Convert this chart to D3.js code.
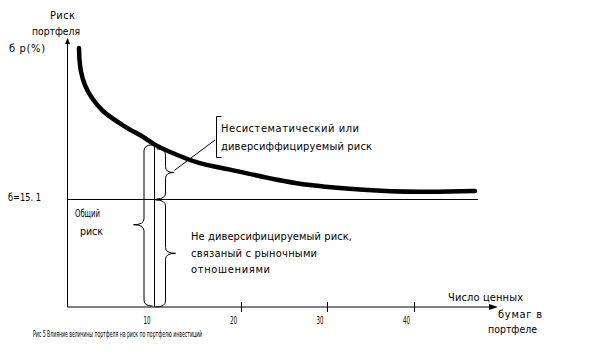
<!DOCTYPE html>
<html><head><meta charset="utf-8">
<script src="https://cdn.jsdelivr.net/npm/d3@7"></script>
<style>
body{margin:0;background:#fff;}
svg text{font-family:"Liberation Sans Narrow","DejaVu Sans Condensed",Arial,sans-serif;font-size:11px;fill:#000;}
</style></head>
<body>
<script>
// ---- data ----
const securities = [1.33,1.39,1.56,2.02,2.83,4.1,6.4,8.7,10.1,11.8,15.3,18.8,26.5,34.2,40.8,47.1];
const portfolioRisk = [36.2,34.5,32.9,31.0,29.2,27.4,25.4,23.8,22.7,21.7,20.1,19.2,17.3,16.4,16.1,16.2];
const xTicks = [10,20,30,40];
const marketRisk = 15.1;
const markerN = 10;
const riskAtMarker = 22.8;
const yLabelLines = ["Риск","портфеля","б р(%)"];
const xLabelLines = ["Число ценных","бумаг в","портфеле"];
const totalLabel = ["Общий","риск"];
const diversLabel = ["Несистематический или","диверсиффицируемый риск"];
const marketLabel = ["Не диверсифицируемый риск,","связаный с рыночными","отношениями"];
const marketValueLabel = "б=15. 1";
const caption = "Рис 5 Влияние величины портфеля на риск по портфелю инвестиций";

const W=590,H=358;
const svg=d3.select("body").append("svg").attr("width",W).attr("height",H);
const x=d3.scaleLinear().domain([0,50]).range([67.5,500]);
const y=d3.scaleLinear().domain([0,37.6]).range([307,38]);

// axes
svg.append("line").attr("x1",x(0)).attr("x2",x(0)).attr("y1",y(0)).attr("y2",y(37.6)+4).attr("stroke","#000");
svg.append("path").attr("d",`M${x(0)-2.5},${y(37.6)+6}L${x(0)},${y(37.6)}L${x(0)+2.5},${y(37.6)+6}Z`).attr("fill","#000");
const xEnd=498;
svg.append("line").attr("x1",x(0)).attr("x2",xEnd-6).attr("y1",y(0)).attr("y2",y(0)).attr("stroke","#000");
svg.append("path").attr("d",`M${xEnd-9},${y(0)-3}L${xEnd},${y(0)}L${xEnd-9},${y(0)+3}Z`).attr("fill","#000");

// fitted text helper: keeps font size, compresses glyphs only if too wide
function fitText(t,xp,yp,len,size){
  const el=svg.append("text").attr("x",xp).attr("y",yp).style("font-size",size+"px").text(t);
  const w=el.node().getComputedTextLength();
  el.attr("textLength",len).attr("lengthAdjust",w>len?"spacingAndGlyphs":"spacing");
  return el;
}

// ticks
xTicks.forEach(t=>{
  if(t!==markerN) svg.append("line").attr("x1",Math.round(x(t))+0.5).attr("x2",Math.round(x(t))+0.5).attr("y1",y(0)-5).attr("y2",y(0)+5).attr("stroke","#000");
  fitText(String(t),x(t)-10.5,324,7,10.5);
});

// market risk line
svg.append("line").attr("x1",x(0)).attr("x2",478).attr("y1",Math.round(y(marketRisk))+0.5).attr("y2",Math.round(y(marketRisk))+0.5).attr("stroke","#000");
fitText(marketValueLabel,8,201,33,11);

// marker vertical
const xm=Math.round(x(markerN))+0.5;
svg.append("line").attr("x1",xm).attr("x2",xm).attr("y1",y(0)).attr("y2",y(riskAtMarker)).attr("stroke","#000");

// curve
const pts=securities.map((n,i)=>[x(n),y(portfolioRisk[i])]);
svg.append("path").attr("d",d3.line().curve(d3.curveCatmullRom.alpha(0.5))(pts))
  .attr("fill","none").attr("stroke","#000").attr("stroke-width",4.5).attr("stroke-linecap","round");

// brace helper
function brace(xb,y0,y1,xt,ym,xe){
  const r=6;
  const p=d3.path();
  p.moveTo(xe,y0);
  p.quadraticCurveTo(xb,y0,xb,y0+r);
  p.lineTo(xb,ym-r);
  p.quadraticCurveTo(xb,ym,xt,ym);
  p.quadraticCurveTo(xb,ym,xb,ym+r);
  p.lineTo(xb,y1-r);
  p.quadraticCurveTo(xb,y1,xe,y1);
  svg.append("path").attr("d",p.toString()).attr("fill","none").attr("stroke","#000").attr("stroke-width",1);
}
const yTop=y(riskAtMarker), yMk=y(marketRisk), y0=y(0);
brace(xm-10.5, yTop+1, y0-1, xm-21, y(11.5), xm-2);
brace(xm+11, yTop+5, yMk, xm+19, y(18.8), xm+2);
brace(xm+11, yMk+1, y0, xm+21, y(7.5), xm+1);

// leader + bracket
svg.append("line").attr("x1",xm+20).attr("y1",y(19.1)).attr("x2",215).attr("y2",140).attr("stroke","#000");
svg.append("path").attr("d","M221.5,116.5H216.5V157.5H221.5").attr("fill","none").attr("stroke","#000");

// texts
function lines(arr,xs,ys,lens){
  arr.forEach((t,i)=>fitText(t,xs[i],ys[i],lens[i],11));
}
lines(yLabelLines,[50,32,9],[19,35,52],[25,48,36]);
lines(xLabelLines,[448,498,488],[301,318,333],[75,44,49]);
lines(totalLabel,[75,80],[217,235],[25,23]);
lines(diversLabel,[221,221],[132,150],[138,151]);
lines(marketLabel,[191,191,191],[240,257,273],[161,126,79]);
fitText(caption,33,337,169,8);
</script>
</body></html>
